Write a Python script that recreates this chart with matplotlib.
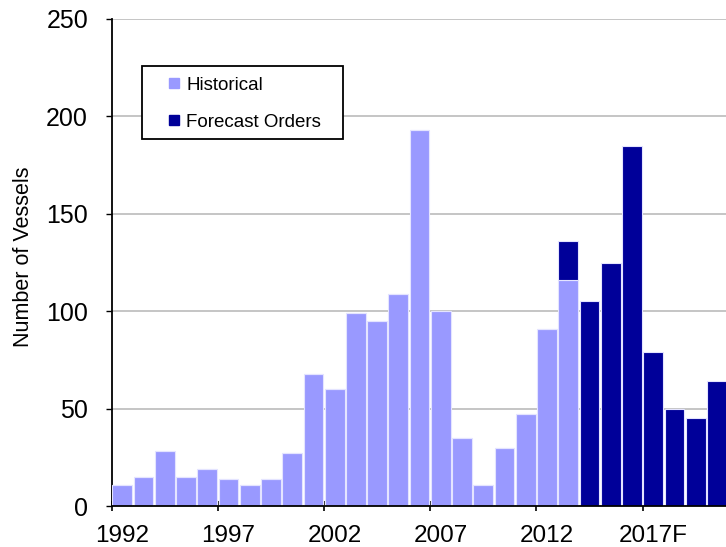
import matplotlib
matplotlib.use("Agg")
import matplotlib.pyplot as plt
from matplotlib.lines import Line2D
from matplotlib.patches import Rectangle
import numpy as np

plt.rcParams['font.family'] = ['Liberation Sans', 'DejaVu Sans']

years = list(range(1992, 2021))
historical = [11, 15, 28, 15, 19, 14, 11, 14, 27, 68, 60, 99, 95, 109, 193,
              100, 35, 11, 30, 47, 91, 116, 0, 0, 0, 0, 0, 0, 0]
forecast = [0, 0, 0, 0, 0, 0, 0, 0, 0, 0, 0, 0, 0, 0, 0,
            0, 0, 0, 0, 0, 0, 20, 105, 125, 185, 79, 50, 45, 64]
tick_labels = ['1992', '1997', '2002', '2007', '2012', '2017F']
y_ticks = [0, 50, 100, 150, 200, 250]

hist_color = '#9999FF'
fcst_color = '#000099'
edge_color = '#e4e4ff'

W, H = 726, 547
fig = plt.figure(figsize=(W / 100, H / 100), dpi=100)
ax = fig.add_axes([111.7 / W, 41 / H, (727.5 - 111.7) / W, 487 / H])

x = np.arange(len(years))
ax.bar(x, historical, width=0.93, color=hist_color, edgecolor=edge_color,
       linewidth=0.8, zorder=3)
ax.bar(x, forecast, width=0.93, bottom=historical, color=fcst_color,
       edgecolor=edge_color, linewidth=0.8, zorder=3)

ax.set_xlim(-0.5, len(years) - 0.5)
ax.set_ylim(0, 250)

# category labels centred under every fifth bar, tick marks on the boundaries
label_pos = [years.index(int(t.rstrip('F'))) for t in tick_labels]
ax.set_xticks(label_pos)
ax.set_xticklabels(tick_labels)
ax.set_xticks([p - 0.5 for p in label_pos], minor=True)
ax.tick_params(axis='x', which='major', length=0, pad=13.5, labelsize=17.5)
ax.tick_params(axis='x', which='minor', length=7.5, width=1.2,
               direction='inout', color='black')

ax.set_yticks(y_ticks)
ax.tick_params(axis='y', which='major', length=4.5, width=1.0,
               direction='out', pad=12.5, labelsize=18)

ax.yaxis.grid(True, color='#c0c0c0', linewidth=1.3, zorder=0)
ax.set_axisbelow(True)

for side in ('top', 'right'):
    ax.spines[side].set_visible(False)
for side in ('left', 'bottom'):
    ax.spines[side].set_color('black')
    ax.spines[side].set_linewidth(1.3)
ax.spines['bottom'].set_zorder(4)

fig.text(24 / W, 1 - 257 / H, 'Number of Vessels', rotation=90,
         ha='center', va='center', fontsize=15.5)

# legend box
box_l, box_t, box_r, box_b = 141.7, 65.7, 343.3, 139.3
fig.patches.append(Rectangle((box_l / W, 1 - box_b / H),
                             (box_r - box_l) / W, (box_b - box_t) / H,
                             transform=fig.transFigure, facecolor='white',
                             edgecolor='black', linewidth=1.3, zorder=5))

handles = [
    Line2D([], [], linestyle='none', marker='s', markersize=6.5,
           markerfacecolor=hist_color, markeredgecolor=hist_color),
    Line2D([], [], linestyle='none', marker='s', markersize=6.5,
           markerfacecolor=fcst_color, markeredgecolor=fcst_color),
]
leg = fig.legend(handles, ['Historical', 'Forecast Orders'],
                 loc='upper left', bbox_to_anchor=(166 / W, 1 - 76.5 / H),
                 fontsize=13.5, frameon=False, borderpad=0,
                 labelspacing=1.07, handlelength=0.85, handletextpad=0.22,
                 borderaxespad=0)
leg.set_zorder(6)

fig.savefig('out.png', dpi=100)
